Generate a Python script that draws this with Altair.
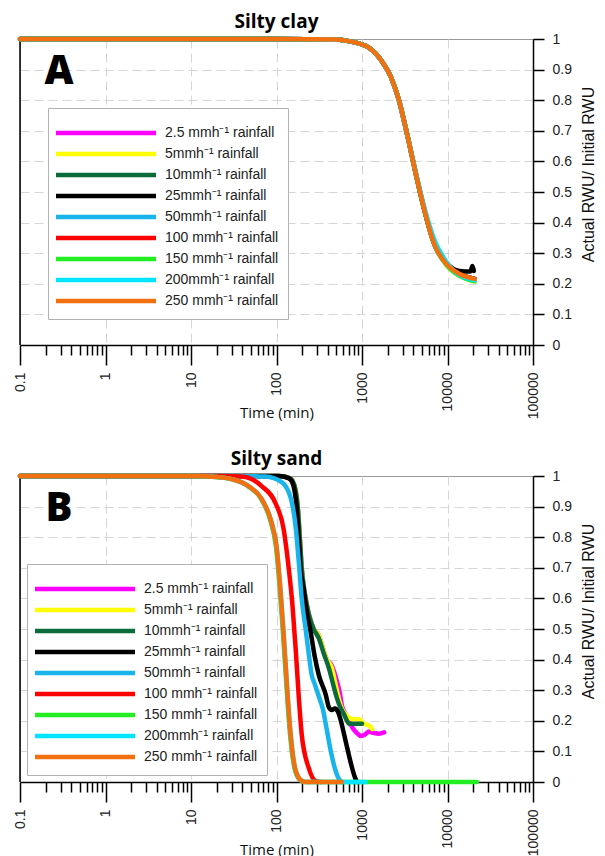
import altair as alt
import pandas as pd

# ---------------- data ----------------
series_labels = [
    "2.5 mmh\u207b\u00b9 rainfall",
    "5mmh\u207b\u00b9 rainfall",
    "10mmh\u207b\u00b9 rainfall",
    "25mmh\u207b\u00b9 rainfall",
    "50mmh\u207b\u00b9 rainfall",
    "100 mmh\u207b\u00b9 rainfall",
    "150 mmh\u207b\u00b9 rainfall",
    "200mmh\u207b\u00b9 rainfall",
    "250 mmh\u207b\u00b9 rainfall",
]
series_colors = ["#ff00ff", "#ffff00", "#0b6b3a", "#000000", "#1ab4ec",
                 "#ff0000", "#22ee22", "#00e5ff", "#f27010"]

panel_titles = ["Silty clay", "Silty sand"]
panel_letters = ["A", "B"]

x_major = [0.1, 1, 10, 100, 1000, 10000, 100000]
x_tick_labels = ["0.1", "1", "10", "100", "1000", "10000", "100000"]
x_minor_mult = [2, 3, 4, 5, 6, 7, 8, 9]
y_ticks = [0, 0.1, 0.2, 0.3, 0.4, 0.5, 0.6, 0.7, 0.8, 0.9, 1]

# ---- Panel A (silty clay): curves almost coincide ----
a_t = [0.1, 100, 500, 700, 1200, 1700, 2200, 2700, 3300, 4300, 5400, 7000, 9700, 13800, 20800]
a_v = [1.0, 1.0, 0.998, 0.993, 0.972, 0.928, 0.873, 0.80, 0.70, 0.555, 0.438, 0.33, 0.265, 0.232, 0.216]
a_v_low = [1.0, 1.0, 0.998, 0.993, 0.972, 0.928, 0.873, 0.80, 0.70, 0.555, 0.438, 0.33, 0.262, 0.226, 0.208]
a_t_black = [0.1, 100, 500, 700, 1200, 1700, 2200, 2700, 3300, 4300, 5400, 7000, 9700, 13800, 18500, 19600, 20300]
a_v_black = [1.0, 1.0, 0.998, 0.993, 0.972, 0.928, 0.873, 0.80, 0.70, 0.555, 0.438, 0.33, 0.268, 0.242, 0.24, 0.258, 0.242]
a_v_cyan = [1.0, 1.0, 0.998, 0.993, 0.972, 0.928, 0.873, 0.80, 0.70, 0.56, 0.447, 0.345, 0.272, 0.228, 0.212]

panel_a = [
    (a_t, a_v),            # 2.5
    (a_t, a_v_low),        # 5
    (a_t, a_v),            # 10
    (a_t_black, a_v_black),# 25
    (a_t, a_v),            # 50
    (a_t, a_v),            # 100
    (a_t, a_v_low),        # 150
    (a_t, a_v_cyan),       # 200
    (a_t, a_v),            # 250
]

# ---- Panel B (silty sand) ----
b_m_t = [0.1, 60, 108, 142, 154, 168, 177, 187, 197, 213, 238, 272, 312, 338, 388, 444, 508, 551, 582, 648, 703, 784, 873, 973, 1085, 1209, 1384, 1585, 1815]
b_m_v = [1, 1, 1.0, 0.993, 0.984, 0.95, 0.9, 0.8, 0.70, 0.62, 0.55, 0.5, 0.48, 0.45, 0.40, 0.38, 0.33, 0.29, 0.25, 0.22, 0.2, 0.175, 0.16, 0.15, 0.155, 0.165, 0.16, 0.158, 0.162]

b_y_t = [0.1, 60, 108, 142, 154, 168, 177, 187, 197, 213, 238, 272, 312, 338, 388, 444, 481, 508, 551, 582, 648, 703, 805, 922, 1056, 1209, 1311]
b_y_v = [1, 1, 1.0, 0.993, 0.984, 0.95, 0.9, 0.8, 0.70, 0.62, 0.55, 0.5, 0.48, 0.45, 0.40, 0.373, 0.33, 0.30, 0.26, 0.24, 0.22, 0.21, 0.205, 0.205, 0.19, 0.185, 0.173]

b_g_t = [0.1, 60, 108, 142, 154, 168, 177, 187, 197, 213, 238, 272, 312, 357, 409, 469, 508, 566, 614, 667, 703, 805, 1000]
b_g_v = [1, 1, 1.0, 0.993, 0.984, 0.95, 0.9, 0.8, 0.70, 0.62, 0.55, 0.5, 0.47, 0.42, 0.373, 0.31, 0.275, 0.24, 0.222, 0.2, 0.19, 0.19, 0.19]

b_k_t = [0.1, 50, 106, 138, 150, 163, 172, 182, 191, 208, 225, 251, 280, 312, 377, 409, 444, 481, 522, 566, 648, 743, 827, 873]
b_k_v = [1, 1, 1.0, 0.993, 0.984, 0.95, 0.9, 0.8, 0.70, 0.63, 0.56, 0.49, 0.41, 0.35, 0.285, 0.245, 0.235, 0.24, 0.23, 0.2, 0.13, 0.06, 0.015, 0]

b_b_t = [0.1, 30, 74, 115, 146, 168, 182, 197, 219, 238, 258, 280, 312, 347, 388, 432, 481, 536, 582]
b_b_v = [1, 1, 0.998, 0.98, 0.93, 0.83, 0.72, 0.6, 0.50, 0.42, 0.35, 0.32, 0.28, 0.24, 0.17, 0.1, 0.045, 0.01, 0]

b_r_t = [0.1, 20, 39, 67, 97, 121, 138, 154, 168, 182, 197, 238, 288, 330]
b_r_v = [1, 1, 0.998, 0.967, 0.912, 0.827, 0.706, 0.575, 0.43, 0.28, 0.157, 0.046, 0.003, 0]

b_gr_t = [0.1, 10, 19.7, 29.6, 46.3, 66, 85.7, 98.5, 109.3, 118.2, 126.1, 143.8, 165.5, 194, 217, 22000]
b_gr_v = [1, 1, 0.997, 0.99, 0.967, 0.925, 0.85, 0.77, 0.63, 0.5, 0.38, 0.157, 0.036, 0.004, 0, 0]

b_c_t = [0.1, 10, 20, 30, 47, 67, 87, 100, 111, 120, 128, 146, 168, 197, 220, 1100]
b_c_v = [1, 1, 0.997, 0.99, 0.967, 0.925, 0.85, 0.77, 0.63, 0.5, 0.38, 0.157, 0.036, 0.004, 0, 0]

b_o_t = [0.1, 10, 20, 30, 47, 67, 87, 100, 111, 120, 128, 146, 168, 197, 220, 580]
b_o_v = [1, 1, 0.997, 0.99, 0.967, 0.925, 0.85, 0.77, 0.63, 0.5, 0.38, 0.157, 0.036, 0.004, 0, 0]

panel_b = [
    (b_m_t, b_m_v), (b_y_t, b_y_v), (b_g_t, b_g_v), (b_k_t, b_k_v), (b_b_t, b_b_v),
    (b_r_t, b_r_v), (b_gr_t, b_gr_v), (b_c_t, b_c_v), (b_o_t, b_o_v),
]

# ---------------- chart ----------------
x_minor = [round(m * 10 ** k, 6) for k in range(-1, 5) for m in x_minor_mult]
x_all = sorted(x_major + x_minor)

label_expr = " : ".join(
    f"datum.value == {v} ? '{lab}'" for v, lab in zip(x_major, x_tick_labels)
) + " : ''"
major_list = "[" + ",".join(str(v) for v in x_major) + "]"
inner_list = "[" + ",".join(str(v) for v in x_major[1:-1]) + "]"

AX_FONT = "Liberation Sans"

x_scale = alt.Scale(type="log", domain=[0.1, 100000], nice=False)
y_scale = alt.Scale(domain=[0, 1], nice=False, zero=True)
c_scale = alt.Scale(domain=series_labels, range=series_colors)

x_axis = alt.Axis(
    values=x_all, labelExpr=label_expr, labelAngle=270, labelAlign="right", labelBaseline="middle",
    labelFlush=False, labelOverlap=False,
    labelFont=AX_FONT, labelFontSize=14, labelColor="#222", labelPadding=7,
    tickSize={"condition": {"test": f"indexof({major_list}, datum.value) >= 0", "value": 20}, "value": 10},
    tickColor="black", tickWidth=1.5, domainColor="black", domainWidth=1.5,
    grid=True, gridDash=[9, 5], gridColor="#d6d6d6",
    gridOpacity={"condition": {"test": f"indexof({inner_list}, datum.value) >= 0", "value": 1}, "value": 0},
    title="Time (min)", titleFont="Open Sans", titleFontSize=15, titleFontWeight="normal",
    titleColor="#111", titleY=67, titleBaseline="middle",
)


def y_axis_for():
    return alt.Axis(
        orient="right", values=y_ticks, format=".1~f", labelFlush=False,
        labelFont=AX_FONT, labelFontSize=14, labelColor="#222", labelPadding=8,
        labelAlign="left", labelBaseline="middle",
        tickSize=11, tickWidth=1.5, tickColor="black", domainColor="black", domainWidth=1.5,
        grid=True, gridDash=[9, 5], gridColor="#d6d6d6",
        gridOpacity={"condition": {"test": "datum.value > 0.05 && datum.value < 0.95", "value": 1}, "value": 0},
        title="Actual RWU/ Initial RWU", titleAngle=270, titleX=55, titleY=135,
        titleAlign="center", titleBaseline="middle", titleFont=AX_FONT, titleFontSize=16,
        titleFontWeight="normal", titleColor="#111",
    )


def make_panel(title_text, letter, curves, legend_x, legend_y):
    rows = []
    for lab, (ts, vs) in zip(series_labels, curves):
        for t, v in zip(ts, vs):
            rows.append({"series": lab, "t": t, "v": v})
    df = pd.DataFrame(rows)
    y_axis = y_axis_for()

    legend = alt.Legend(
        title=" ", titleFontSize=6, titlePadding=3,
        orient="none", legendX=legend_x, legendY=legend_y,
        symbolType="M-3.2,0H36.8", symbolSize=25, symbolStrokeWidth=4.5,
        labelFont=AX_FONT, labelFontSize=14, labelColor="#222", labelOffset=94,
        labelLimit=400, rowPadding=3, padding=9,
        strokeColor="#b3b3b3", fillColor="white",
    )

    rule = alt.Chart(pd.DataFrame({"t": [0.1], "v": [0.0], "v2": [1.0]})).mark_rule(
        color="black", strokeWidth=1.5
    ).encode(
        x=alt.X("t:Q", scale=x_scale, axis=x_axis),
        y=alt.Y("v:Q", scale=y_scale, axis=y_axis),
        y2="v2:Q",
    )

    lines = alt.Chart(df).mark_line(
        strokeWidth=4.5, interpolate="monotone", strokeCap="round", strokeJoin="round"
    ).encode(
        x=alt.X("t:Q", scale=x_scale, axis=x_axis),
        y=alt.Y("v:Q", scale=y_scale, axis=y_axis),
        color=alt.Color("series:N", scale=c_scale, legend=legend, sort=series_labels),
    )

    letter_txt = alt.Chart(pd.DataFrame({"letter": [letter]})).mark_text(
        font="Open Sans", fontSize=40, fontWeight=800, color="black",
        align="center", baseline="middle"
    ).encode(text="letter:N", x=alt.value(39), y=alt.value(33))

    return alt.layer(rule, lines, letter_txt).properties(
        width=513, height=306,
        title=alt.TitleParams(title_text, font="Open Sans", fontSize=19, fontWeight="bold",
                              color="black", offset=0),
    )


top = make_panel(panel_titles[0], panel_letters[0], panel_a, 28, 69)
bottom = make_panel(panel_titles[1], panel_letters[1], panel_b, 7, 88)

chart = alt.vconcat(top, bottom, spacing=28).resolve_legend(color="independent").configure_view(
    stroke="#9a9a9a", strokeWidth=1
).properties(padding={"left": 4, "top": 4, "right": 0, "bottom": 0})

chart.save("out.html", embed_options={"renderer": "svg", "actions": False})
